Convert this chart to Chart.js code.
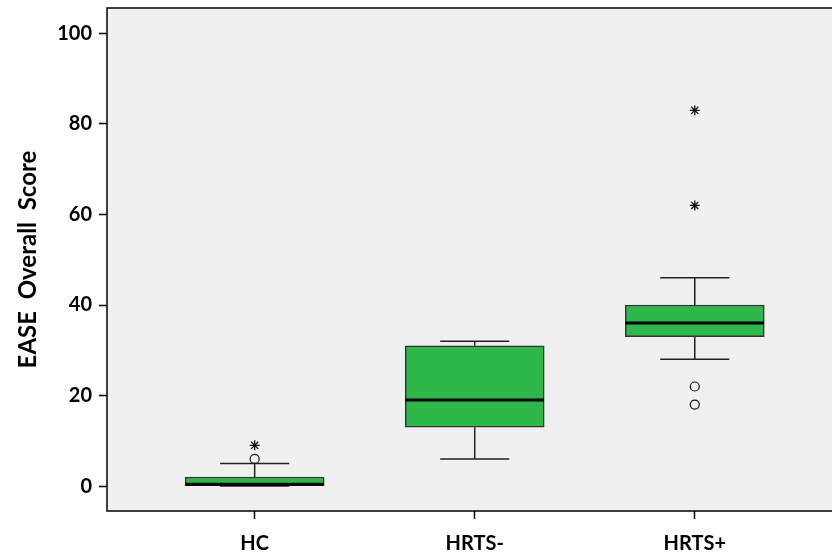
<!DOCTYPE html>
<html>
<head>
<meta charset="utf-8">
<script src="https://cdn.jsdelivr.net/npm/chart.js@4"></script>
<style>
  html, body { margin: 0; padding: 0; background: #fff; }
  #wrap { width: 832px; height: 559px; }
</style>
</head>
<body>
<div id="wrap"><canvas id="box"></canvas></div>
<script>
// groups and box statistics
const groups = ["HC", "HRTS-", "HRTS+"]
const mins = [0, 6, 28]
const q1s = [0, 13, 33]
const medians = [0.4, 19, 36]
const q3s = [2, 31, 40]
const maxs = [5, 32, 46]
// outliers (circles) and extremes (stars), as [group index, value]
const outliers = [[0, 6], [2, 22], [2, 18]]
const extremes = [[0, 9], [2, 83], [2, 62]]
const yTicks = [0, 20, 40, 60, 80, 100]

const boxHalf = 0.315
const capHalf = 0.157
const gap = { x: 0, y: null }

const boxData = groups.map((g, i) => ({ x: i + 1, y: [q1s[i], q3s[i]] }))

const medianData = []
const whiskerData = []
groups.forEach((g, i) => {
    const x = i + 1
    medianData.push({ x: x - boxHalf, y: medians[i] }, { x: x + boxHalf, y: medians[i] }, gap)
    // upper whisker + cap
    whiskerData.push({ x: x, y: q3s[i] }, { x: x, y: maxs[i] }, gap)
    whiskerData.push({ x: x - capHalf, y: maxs[i] }, { x: x + capHalf, y: maxs[i] }, gap)
    // lower whisker + cap
    whiskerData.push({ x: x, y: q1s[i] }, { x: x, y: mins[i] }, gap)
    whiskerData.push({ x: x - capHalf, y: mins[i] }, { x: x + capHalf, y: mins[i] }, gap)
})

const plotFrame = {
    id: "plotFrame",
    beforeDatasetsDraw(chart) {
        const { ctx, chartArea: a } = chart
        ctx.save()
        ctx.fillStyle = "#f0f0f0"
        ctx.fillRect(a.left, a.top, chart.width - a.left, a.bottom - a.top)
        ctx.strokeStyle = "#000"
        ctx.lineWidth = 1.5
        ctx.beginPath()
        ctx.moveTo(chart.width, a.top)
        ctx.lineTo(a.left, a.top)
        ctx.lineTo(a.left, a.bottom)
        ctx.lineTo(chart.width, a.bottom)
        ctx.stroke()
        ctx.restore()
    }
}

const font = { family: "Lato", weight: "bold", size: 20 }

new Chart(document.getElementById("box"), {
    data: {
        datasets: [{
            type: "line",
            data: medianData,
            borderColor: "#000",
            borderWidth: 3,
            pointRadius: 0,
            spanGaps: false,
            order: 1
        }, {
            type: "line",
            data: whiskerData,
            borderColor: "#222",
            borderWidth: 1.5,
            pointRadius: 0,
            spanGaps: false,
            order: 3
        }, {
            type: "bar",
            data: boxData,
            backgroundColor: "#2eb84b",
            borderColor: "#333",
            borderWidth: 1.5,
            borderSkipped: false,
            barThickness: 139,
            order: 2
        }, {
            type: "scatter",
            data: outliers.map(o => ({ x: o[0] + 1, y: o[1] })),
            pointStyle: "circle",
            pointRadius: 4.5,
            backgroundColor: "rgba(0,0,0,0)",
            borderColor: "#111",
            borderWidth: 1.2,
            order: 0
        }, {
            type: "scatter",
            data: extremes.map(o => ({ x: o[0] + 1, y: o[1] })),
            pointStyle: "star",
            pointRadius: 5,
            borderColor: "#111",
            borderWidth: 1.3,
            order: 0
        }]
    },
    options: {
        responsive: true,
        maintainAspectRatio: false,
        animation: false,
        layout: { padding: { top: 8, right: 0, left: 0, bottom: 0 } },
        plugins: { legend: { display: false }, tooltip: { enabled: false } },
        scales: {
            x: {
                type: "linear",
                offset: false,
                min: 0.329,
                max: 3.595,
                afterBuildTicks: s => { s.ticks = groups.map((g, i) => ({ value: i + 1 })) },
                afterFit: s => { s.height = 48; s.paddingLeft = 0; s.paddingRight = 0 },
                ticks: {
                    callback: v => groups[v - 1],
                    font: font,
                    color: "#000",
                    padding: 13,
                    maxRotation: 0
                },
                grid: { offset: false, drawOnChartArea: false, tickLength: 8, tickColor: "#000", tickWidth: 1.5 },
                border: { display: false }
            },
            y: {
                min: -5.5,
                max: 105.6,
                afterBuildTicks: s => { s.ticks = yTicks.map(v => ({ value: v })) },
                afterFit: s => { s.width = 107; s.paddingTop = 0; s.paddingBottom = 0 },
                ticks: { font: font, color: "#000", padding: 7 },
                grid: { drawOnChartArea: false, tickLength: 8, tickColor: "#000", tickWidth: 1.5 },
                border: { display: false },
                title: {
                    display: true,
                    text: "EASE  Overall  Score",
                    font: { family: "Lato", weight: "bold", size: 24 },
                    color: "#000",
                    padding: { top: 14, bottom: 0 }
                }
            }
        }
    },
    plugins: [plotFrame]
})
</script>
</body>
</html>
